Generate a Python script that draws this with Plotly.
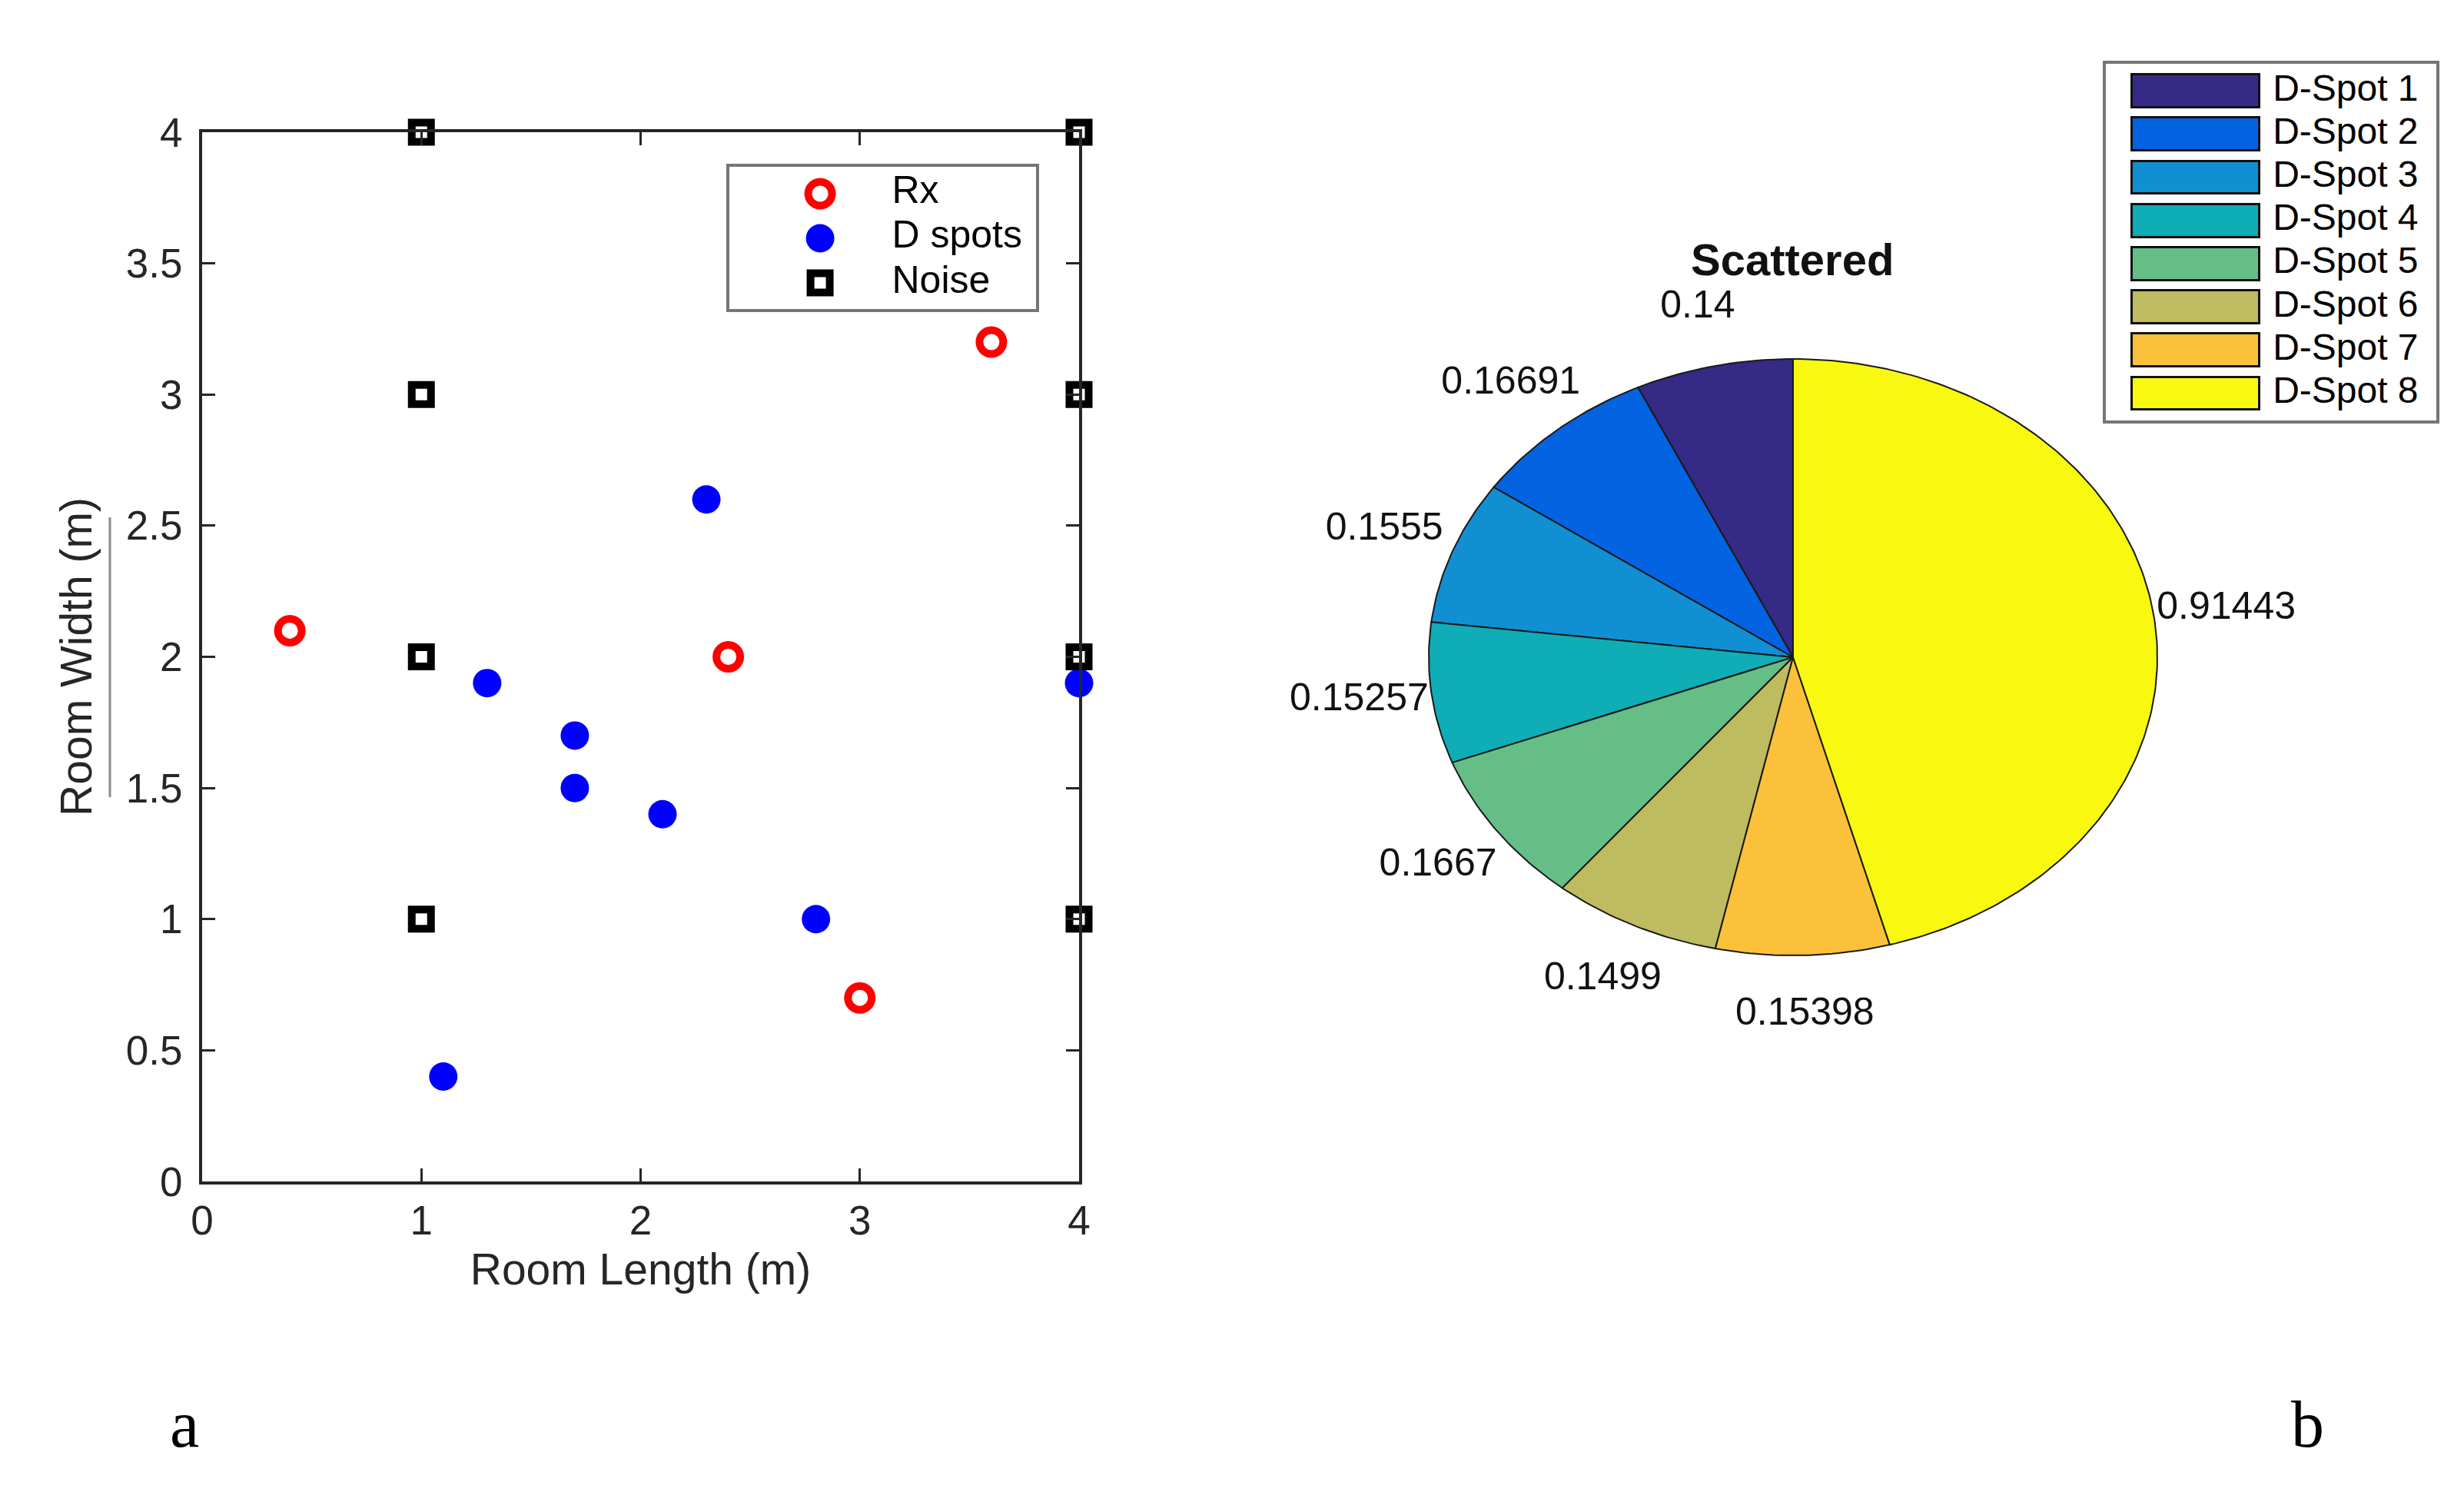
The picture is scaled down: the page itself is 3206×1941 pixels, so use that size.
import numpy as np
import plotly.graph_objects as go

W, H = 3206, 1941

# ---------------- data: panel (a) ----------------
rx_x = [0.4, 2.4, 3.6, 3.0]
rx_y = [2.1, 2.0, 3.2, 0.7]
dspot_x = [1.3, 1.7, 1.7, 2.1, 2.3, 2.8, 1.1, 4.0]
dspot_y = [1.9, 1.7, 1.5, 1.4, 2.6, 1.0, 0.4, 1.9]
noise_x = [1, 1, 1, 1, 4, 4, 4, 4]
noise_y = [4, 3, 2, 1, 4, 3, 2, 1]
series_names = ["Rx", "D spots", "Noise"]

x_tickvals = [0, 1, 2, 3, 4]
x_ticktext = ["0", "1", "2", "3", "4"]
y_tickvals = [0, 0.5, 1, 1.5, 2, 2.5, 3, 3.5, 4]
y_ticktext = ["0", "0.5", "1", "1.5", "2", "2.5", "3", "3.5", "4"]

# ---------------- data: panel (b) ----------------
spot_names = ["D-Spot 1", "D-Spot 2", "D-Spot 3", "D-Spot 4",
              "D-Spot 5", "D-Spot 6", "D-Spot 7", "D-Spot 8"]
spot_values = [0.14, 0.16691, 0.1555, 0.15257, 0.1667, 0.1499, 0.15398, 0.91443]
spot_colors = ["#352a86", "#0363e1", "#118fd3", "#0fadb5",
               "#65be86", "#bfbb60", "#fbc13a", "#f8f90e"]

FONT = "Liberation Sans, Arial, sans-serif"
SERIF = "Liberation Serif, Times New Roman, serif"
INK = "#262626"
OFF = 8  # page body margin


def fx(px):
    return (px - OFF) / W


def fy(py):
    return 1 - (py - OFF) / H


fig = go.Figure()

# ---------------- panel (a) scatter ----------------
marker_styles = {
    "Rx": dict(symbol="circle-open", size=31, color="#ff0000", line=dict(width=10, color="#ff0000")),
    "D spots": dict(symbol="circle", size=37, color="#0000ff", line=dict(width=0)),
    "Noise": dict(symbol="square-open", size=25, color="#000000", line=dict(width=10, color="#000000")),
}
series_xy = {"Rx": (rx_x, rx_y), "D spots": (dspot_x, dspot_y), "Noise": (noise_x, noise_y)}

for name in series_names:
    xs, ys = series_xy[name]
    fig.add_trace(go.Scatter(x=xs, y=ys, mode="markers", name=name,
                             marker=marker_styles[name], cliponaxis=False,
                             showlegend=False, xaxis="x", yaxis="y"))

# legend box for panel (a) drawn as a small subplot
for name in series_names:
    fig.add_trace(go.Scatter(x=[0.296], y=[name], mode="markers",
                             marker=marker_styles[name], cliponaxis=False,
                             showlegend=False, xaxis="x4", yaxis="y4"))
fig.add_trace(go.Scatter(x=[0.53] * len(series_names), y=series_names, text=series_names,
                         mode="text", textposition="middle right",
                         textfont=dict(family=FONT, size=50, color="#000000"),
                         showlegend=False, xaxis="x4", yaxis="y4", cliponaxis=False))

# ---------------- panel (b) pie drawn on an xy plane (elliptic) ----------------
vals = np.array(spot_values, dtype=float)
fr = vals / vals.sum()
cum = np.concatenate([[0.0], np.cumsum(fr)])
for i, name in enumerate(spot_names):
    t0 = np.pi / 2 + 2 * np.pi * cum[i]
    t1 = np.pi / 2 + 2 * np.pi * cum[i + 1]
    n = max(4, int(np.ceil((t1 - t0) / (2 * np.pi) * 400)))
    t = np.linspace(t0, t1, n)
    px_ = np.concatenate([[0.0], np.cos(t), [0.0]])
    py_ = np.concatenate([[0.0], np.sin(t), [0.0]])
    fig.add_trace(go.Scatter(x=px_, y=py_, mode="lines", fill="toself",
                             fillcolor=spot_colors[i], line=dict(color="#1a1a1a", width=2),
                             name=name, showlegend=False, hoverinfo="skip",
                             xaxis="x2", yaxis="y2"))

mid = np.pi / 2 + 2 * np.pi * (cum[:-1] + cum[1:]) / 2
lab_text = [f"{v:.5g}" for v in spot_values]
fig.add_trace(go.Scatter(x=1.2 * np.cos(mid), y=1.2 * np.sin(mid), text=lab_text,
                         mode="text", textposition="middle center",
                         textfont=dict(family=FONT, size=50, color="#111111"),
                         showlegend=False, cliponaxis=False, xaxis="x2", yaxis="y2"))

# legend box for panel (b) drawn as a small subplot
fig.add_trace(go.Bar(y=spot_names, x=[0.386] * len(spot_names), base=0.079,
                     orientation="h", width=0.76,
                     marker=dict(color=spot_colors, line=dict(color="#111111", width=3)),
                     showlegend=False, xaxis="x3", yaxis="y3"))
fig.add_trace(go.Scatter(x=[0.505] * len(spot_names), y=spot_names, text=spot_names,
                         mode="text", textposition="middle right",
                         textfont=dict(family=FONT, size=48, color="#000000"),
                         showlegend=False, cliponaxis=False, xaxis="x3", yaxis="y3"))

# ---------------- geometry ----------------
ax_l, ax_r, ax_t, ax_b = 263, 1404, 172, 1537
pie_cx, pie_cy, pie_rx, pie_ry = 2333, 855, 474, 388
pie_xr, pie_yr = 1.6, 1.4

axis_common = dict(showline=True, linecolor=INK, linewidth=4, mirror="ticks",
                   ticks="inside", ticklen=17, tickwidth=3, tickcolor=INK,
                   showgrid=False, zeroline=False, automargin=False,
                   tickfont=dict(family=FONT, size=53, color=INK))

hidden = dict(visible=False, showgrid=False, zeroline=False, automargin=False)
box = dict(showline=True, mirror=True, linecolor="#767676", linewidth=4, automargin=False,
           showticklabels=False, ticks="", showgrid=False, zeroline=False, fixedrange=True)

fig.update_layout(
    width=W, height=H, autosize=False,
    margin=dict(l=0, r=0, t=0, b=0, pad=0, autoexpand=False),
    paper_bgcolor="white", plot_bgcolor="white",
    showlegend=False,
    bargap=0,
    xaxis=dict(domain=[fx(ax_l), fx(ax_r)], range=[0, 4], tickvals=x_tickvals, ticktext=x_ticktext,
               ticklabelstandoff=1,
               title=dict(text="Room Length (m)", font=dict(family=FONT, size=57, color=INK), standoff=17),
               anchor="y", **axis_common),
    yaxis=dict(domain=[fy(ax_b), fy(ax_t)], range=[0, 4], tickvals=y_tickvals, ticktext=y_ticktext,
               ticklabelstandoff=11,
               title=dict(text="Room Width (m)", font=dict(family=FONT, size=57, color=INK), standoff=27),
               anchor="x", **axis_common),
    xaxis2=dict(domain=[fx(pie_cx - pie_xr * pie_rx), fx(pie_cx + pie_xr * pie_rx)],
                range=[-pie_xr, pie_xr], anchor="y2", **hidden),
    yaxis2=dict(domain=[fy(pie_cy + pie_yr * pie_ry), fy(pie_cy - pie_yr * pie_ry)],
                range=[-pie_yr, pie_yr], anchor="x2", **hidden),
    xaxis3=dict(domain=[fx(2740), fx(3170)], range=[0, 1], anchor="y3", **box),
    yaxis3=dict(domain=[fy(547), fy(83)], range=[7.623, -0.632], type="category",
                anchor="x3", **box),
    xaxis4=dict(domain=[fx(949), fx(1348)], range=[0, 1], anchor="y4", **box),
    yaxis4=dict(domain=[fy(402), fy(217)], range=[2.586, -0.603], type="category",
                anchor="x4", **box),
    shapes=[
        dict(type="line", xref="paper", yref="paper", x0=fx(143), x1=fx(143),
             y0=fy(673), y1=fy(1037), line=dict(color="#8c8c8c", width=3)),
    ],
    annotations=[
        dict(text="<b>Scattered</b>", x=fx(2332), y=fy(338), xref="paper", yref="paper",
             xanchor="center", yanchor="middle", showarrow=False,
             font=dict(family=FONT, size=58, color="#111111")),
        dict(text="a", x=fx(240), y=fy(1853), xref="paper", yref="paper",
             xanchor="center", yanchor="middle", showarrow=False,
             font=dict(family=SERIF, size=86, color="#000000")),
        dict(text="b", x=fx(3002), y=fy(1853), xref="paper", yref="paper",
             xanchor="center", yanchor="middle", showarrow=False,
             font=dict(family=SERIF, size=86, color="#000000")),
    ],
)

fig.write_html("out.html")
